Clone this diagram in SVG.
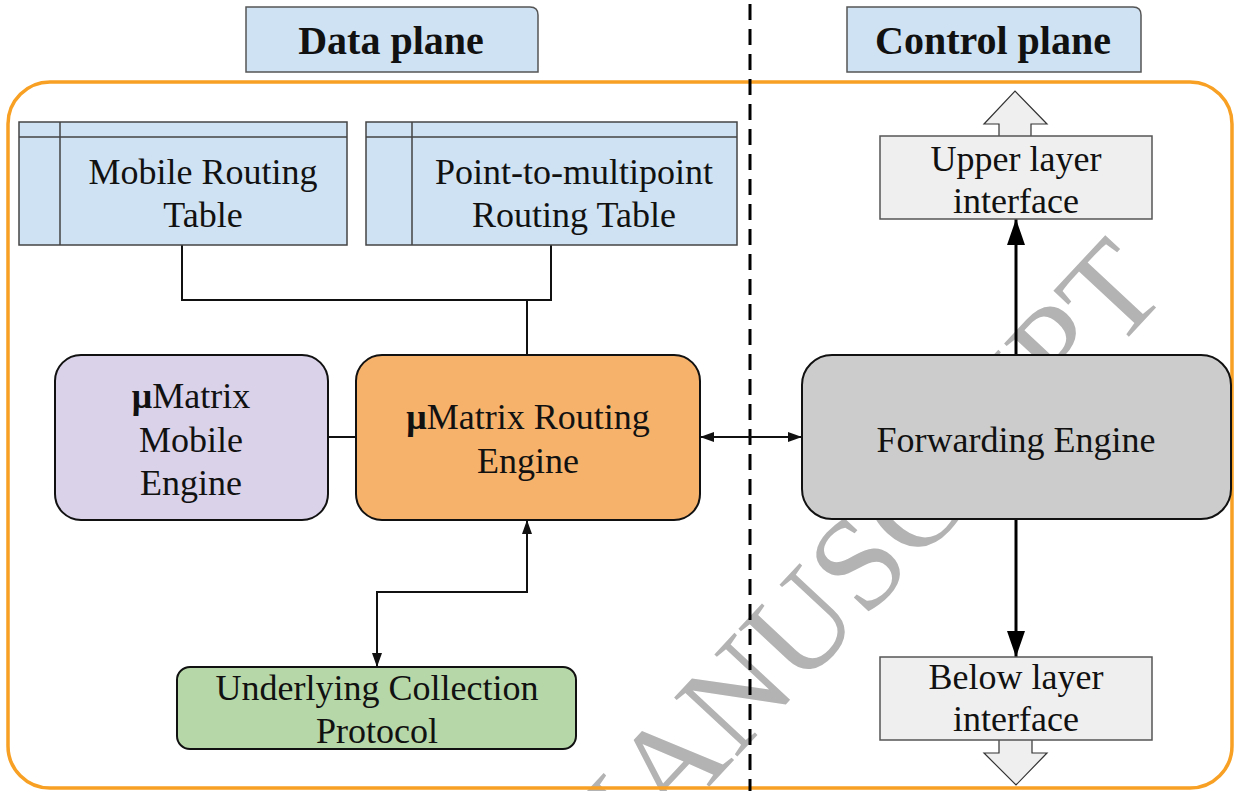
<svg xmlns="http://www.w3.org/2000/svg" width="1234" height="791" viewBox="0 0 1234 791">
<style>
  text { font-family: "Liberation Serif", "Times New Roman", serif; fill: #111; text-anchor: middle; }
  .t { font-size: 36px; }
  .h { font-size: 40px; font-weight: bold; }
  .tab { fill: #cfe2f3; stroke: #555; stroke-width: 1.5; }
  .tbl { fill: #cfe2f3; stroke: #444; stroke-width: 1.5; }
  .tl { stroke: #444; stroke-width: 1.5; fill: none; }
  .iface { fill: #efefef; stroke: #555; stroke-width: 1.5; }
  .hollow { fill: #efefef; stroke: #333; stroke-width: 1.2; }
  .node { stroke: #111; stroke-width: 2; }
  .conn { stroke: #111; stroke-width: 2; fill: none; }
  .thick { stroke: #000; stroke-width: 3; fill: none; }
  .wm { font-size: 132px; fill: #b3b3b3; text-anchor: start; }
</style>
<defs>
  <marker id="ah" markerUnits="userSpaceOnUse" markerWidth="14" markerHeight="10" refX="14" refY="5" orient="auto-start-reverse">
    <path d="M0,0 L14,5 L0,10 Z" fill="#111"/>
  </marker>
  <marker id="ahb" markerUnits="userSpaceOnUse" markerWidth="26" markerHeight="18" refX="26" refY="9" orient="auto-start-reverse">
    <path d="M0,0 L26,9 L0,18 Z" fill="#000"/>
  </marker>
</defs>
<rect x="0" y="0" width="1234" height="791" fill="#fff"/>

<g id="watermark">
  <text class="wm" transform="translate(589.6,914.9) rotate(-47)">MANUSCRIPT</text>
</g>

<g id="container">
  <rect x="8" y="82" width="1224" height="706" rx="42" ry="42" fill="none" stroke="#f7a023" stroke-width="3.5"/>
</g>

<g id="divider">
  <line x1="750" y1="4" x2="750" y2="791" stroke="#000" stroke-width="3" stroke-dasharray="16 9"/>
</g>

<g id="tab-data">
  <path class="tab" d="M246,7 H530 Q538,7 538,15 V72 H246 Z"/>
  <text class="h" x="391" y="54">Data plane</text>
</g>
<g id="tab-control">
  <path class="tab" d="M847,7 H1133 Q1141,7 1141,15 V72 H847 Z"/>
  <text class="h" x="993" y="54">Control plane</text>
</g>

<g id="connectors">
  <path class="conn" d="M182,245 V300 H551 V245"/>
  <path class="conn" d="M527,300 V355"/>
  <path class="conn" d="M328,437 H356"/>
  <path class="conn" d="M700,437 H802" marker-start="url(#ah)" marker-end="url(#ah)"/>
  <path class="conn" d="M377,667 V592 H527 V520" marker-start="url(#ah)" marker-end="url(#ah)"/>
  <path class="thick" d="M1016,355 V219" marker-end="url(#ahb)"/>
  <path class="thick" d="M1016,519 V657" marker-end="url(#ahb)"/>
</g>

<g id="mobile-routing-table">
  <rect class="tbl" x="19" y="122" width="328" height="123"/>
  <path class="tl" d="M19,137 H347 M60,122 V245"/>
  <text class="t" x="203" y="184">Mobile Routing</text>
  <text class="t" x="203" y="227">Table</text>
</g>

<g id="p2mp-routing-table">
  <rect class="tbl" x="366" y="122" width="371" height="123"/>
  <path class="tl" d="M366,137 H737 M412,122 V245"/>
  <text class="t" x="574" y="184">Point-to-multipoint</text>
  <text class="t" x="574" y="227">Routing Table</text>
</g>

<g id="upper-interface">
  <polygon class="hollow" points="999,137 999,124 984,124 1015,91 1047,124 1031,124 1031,137"/>
  <rect class="iface" x="880" y="136" width="272" height="83"/>
  <text class="t" x="1016" y="171">Upper layer</text>
  <text class="t" x="1016" y="213">interface</text>
</g>

<g id="mobile-engine">
  <rect class="node" x="55" y="355" width="273" height="165" rx="26" fill="#d9d2e9"/>
  <text class="t" x="191" y="408"><tspan font-weight="bold">μ</tspan>Matrix</text>
  <text class="t" x="191" y="452">Mobile</text>
  <text class="t" x="191" y="495">Engine</text>
</g>

<g id="routing-engine">
  <rect class="node" x="356" y="355" width="344" height="165" rx="26" fill="#f6b26b"/>
  <text class="t" x="528" y="429"><tspan font-weight="bold">μ</tspan>Matrix Routing</text>
  <text class="t" x="528" y="473">Engine</text>
</g>

<g id="forwarding-engine">
  <rect class="node" x="802" y="355" width="429" height="164" rx="30" fill="#cccccc"/>
  <text class="t" x="1016" y="452">Forwarding Engine</text>
</g>

<g id="below-interface">
  <polygon class="hollow" points="999,739 999,753 984,753 1016,785 1047,753 1032,753 1032,739"/>
  <rect class="iface" x="880" y="657" width="272" height="83"/>
  <text class="t" x="1016" y="689">Below layer</text>
  <text class="t" x="1016" y="731">interface</text>
</g>

<g id="collection-protocol">
  <rect class="node" x="177" y="667" width="399" height="82" rx="13" fill="#b6d7a8"/>
  <text class="t" x="377" y="700">Underlying Collection</text>
  <text class="t" x="377" y="743">Protocol</text>
</g>
</svg>
